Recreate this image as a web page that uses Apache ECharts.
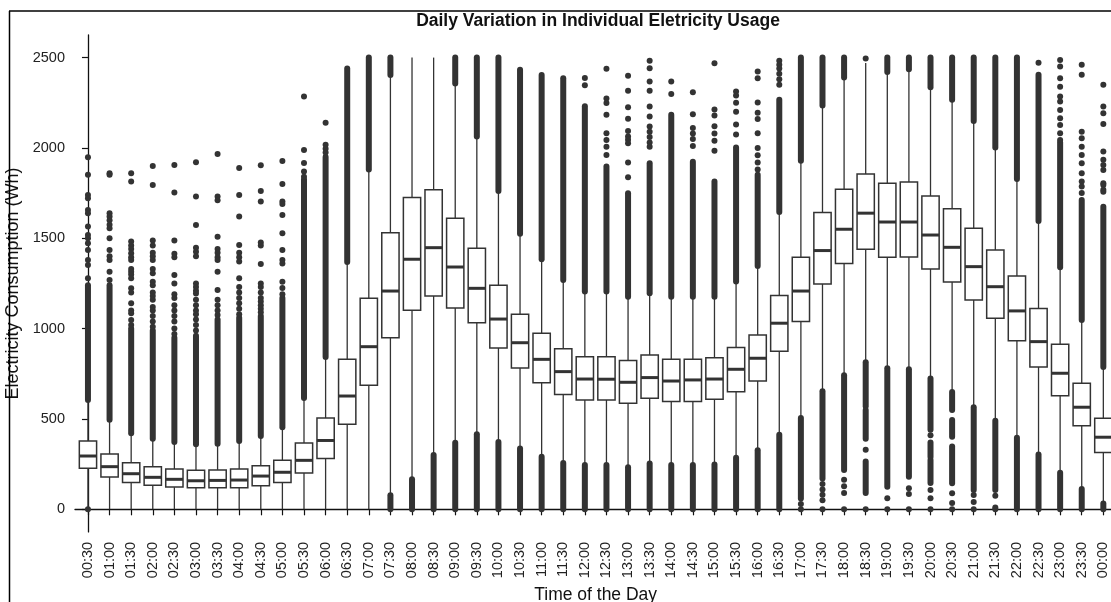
<!DOCTYPE html>
<html>
<head>
<meta charset="utf-8">
<script src="https://cdn.jsdelivr.net/npm/echarts@6/dist/echarts.min.js"></script>
<style>
  html, body { margin: 0; padding: 0; background: #fff; }
  #chart { width: 1111px; height: 602px; }
</style>
</head>
<body>
<div id="chart"></div>
<script>
// Half-hour slots of the day
const times = ['00:30','01:00','01:30','02:00','02:30','03:00','03:30','04:00','04:30','05:00','05:30','06:00',
  '06:30','07:00','07:30','08:00','08:30','09:00','09:30','10:00','10:30','11:00','11:30','12:00',
  '12:30','13:00','13:30','14:00','14:30','15:00','15:30','16:00','16:30','17:00','17:30','18:00',
  '18:30','19:00','19:30','20:00','20:30','21:00','21:30','22:00','22:30','23:00','23:30','00:00'];

// Box statistics per slot (Wh)
const whiskerLow = [5,0,0,0,0,0,0,0,0,0,0,0, 0,0,78,167,301,369,415,373,336,291,256,245,
  245,233,254,245,245,248,285,327,413,505,654,742, 814,780,775,724,649,565,490,396,303,203,112,32];
const q1 = [227,179,149,133,123,120,120,120,131,149,201,281, 471,686,950,1102,1181,1114,1033,893,782,701,636,605,
  605,587,614,596,596,609,651,710,875,1039,1247,1360, 1439,1395,1397,1330,1258,1159,1057,933,788,629,463,315];
const median = [295,236,197,177,166,158,160,162,184,205,271,381, 627,900,1208,1384,1448,1341,1223,1053,922,830,762,721,
  720,703,729,710,716,721,775,836,1030,1208,1432,1550, 1639,1590,1590,1518,1450,1343,1232,1098,928,753,565,399];
const q3 = [378,306,258,236,223,216,218,223,241,271,367,505, 830,1168,1531,1725,1768,1611,1445,1240,1079,974,889,845,
  845,823,854,830,830,839,895,965,1183,1395,1642,1772, 1856,1805,1812,1734,1664,1555,1435,1291,1111,913,697,504];
const whiskerHigh = [604,496,421,391,373,360,363,378,406,454,616,843, 1369,1880,2403,2500,2500,2357,2063,1761,1525,1384,1269,1205,
  1205,1177,1196,1177,1177,1177,1261,1347,1645,1929,2235,2390, 2470,2420,2435,2336,2266,2149,2002,1828,1595,1339,1048,788];

// Dense runs of outliers: [slot, from, to]
const outlierRuns = [
  [0,605,1240],[1,496,1240],[2,421,1000],[3,391,990],[4,373,950],[5,360,960],[6,363,1050],[7,378,1060],
  [8,406,1070],[9,454,1170],[10,616,1825],[11,843,1950],[12,1369,2440],[13,1880,2500],
  [14,2403,2500],[14,0,78],[15,0,167],[16,0,301],[17,2357,2500],[17,0,369],[18,2063,2500],[18,0,415],
  [19,1761,2500],[19,0,373],[20,1525,2432],[20,0,336],[21,1384,2404],[21,0,291],[22,1269,2386],[22,0,256],
  [23,1205,2230],[23,0,245],[24,1205,1897],[24,0,245],[25,1177,1749],[25,0,233],[26,1196,1915],[26,0,254],
  [27,1177,2183],[27,0,245],[28,1177,1924],[28,0,245],[29,1177,1814],[29,0,248],[30,1261,2002],[30,0,285],
  [31,1347,1851],[31,0,327],[32,1645,2266],[32,0,413],[33,1929,2500],[33,60,505],[34,2235,2500],[34,170,654],
  [35,2390,2500],[35,218,742],[36,570,814],[36,390,550],[36,90,265],[37,2420,2500],[37,125,780],
  [38,2435,2500],[38,180,775],[39,2336,2500],[39,440,724],[39,290,370],[39,146,273],
  [40,2266,2500],[40,550,649],[40,402,494],[40,144,347],[41,2149,2500],[41,107,565],[42,2002,2500],[42,107,490],
  [43,1828,2500],[43,0,396],[44,1595,2405],[44,0,303],[45,1339,2030],[45,0,203],[46,1048,1712],[46,0,112],
  [47,788,1675],[47,0,32]
];

// Isolated outliers: [slot, value]
const outlierDots = [
  [0,0],[0,1948],[0,1852],[0,1740],[0,1721],[0,1657],[0,1639],[0,1565],[0,1518],[0,1500],[0,1472],[0,1435],[0,1380],[0,1352],[0,1279],
  [1,1860],[1,1852],[1,1639],[1,1620],[1,1600],[1,1575],[1,1555],[1,1500],[1,1435],[1,1400],[1,1380],[1,1315],[1,1269],
  [2,1860],[2,1814],[2,1482],[2,1460],[2,1440],[2,1417],[2,1395],[2,1380],[2,1330],[2,1315],[2,1300],[2,1279],[2,1223],[2,1200],[2,1140],[2,1100],[2,1085],[2,1048],[2,1020],
  [3,1900],[3,1795],[3,1488],[3,1460],[3,1420],[3,1400],[3,1380],[3,1330],[3,1306],[3,1260],[3,1240],[3,1200],[3,1180],[3,1160],[3,1120],[3,1100],[3,1070],[3,1040],[3,1010],
  [4,1906],[4,1753],[4,1488],[4,1415],[4,1395],[4,1297],[4,1250],[4,1190],[4,1170],[4,1130],[4,1100],[4,1070],[4,1040],[4,1000],[4,970],
  [5,1921],[5,1731],[5,1574],[5,1447],[5,1425],[5,1400],[5,1250],[5,1230],[5,1210],[5,1195],[5,1160],[5,1130],[5,1100],[5,1080],[5,1050],[5,1020],[5,990],
  [6,1967],[6,1731],[6,1710],[6,1509],[6,1440],[6,1420],[6,1395],[6,1380],[6,1315],[6,1214],[6,1160],[6,1130],[6,1100],[6,1075],
  [7,1889],[7,1740],[7,1620],[7,1463],[7,1420],[7,1395],[7,1372],[7,1279],[7,1230],[7,1200],[7,1170],[7,1140],[7,1110],[7,1080],
  [8,1904],[8,1762],[8,1703],[8,1477],[8,1460],[8,1358],[8,1250],[8,1230],[8,1200],[8,1170],[8,1150],[8,1130],[8,1110],[8,1090],
  [9,1928],[9,1801],[9,1703],[9,1690],[9,1629],[9,1528],[9,1435],[9,1380],[9,1360],[9,1260],[9,1225],[9,1190],
  [10,2284],[10,1989],[10,1916],[10,1870],[10,1840],
  [11,2140],[11,2017],[11,1995],[11,1975],
  [23,2387],[23,2347],
  [24,2438],[24,2273],[24,2248],[24,2183],[24,2081],[24,2044],[24,2007],[24,1961],
  [25,2399],[25,2316],[25,2225],[25,2161],[25,2094],[25,2063],[25,2045],[25,2026],[25,1919],[25,1838],
  [26,2483],[26,2441],[26,2367],[26,2317],[26,2229],[26,2174],[26,2118],[26,2090],[26,2060],[26,2030],[26,2007],
  [27,2367],[27,2298],
  [28,2308],[28,2186],[28,2110],[28,2080],[28,2050],[28,2010],
  [29,2469],[29,2213],[29,2180],[29,2120],[29,2080],[29,2040],[29,1985],
  [30,2312],[30,2290],[30,2250],[30,2200],[30,2130],[30,2075],
  [31,2423],[31,2385],[31,2251],[31,2195],[31,2160],[31,2081],[31,2000],[31,1960],[31,1920],[31,1880],
  [32,2483],[32,2460],[32,2440],[32,2410],[32,2380],[32,2350],
  [33,30],[33,0],
  [34,140],[34,110],[34,80],[34,50],[34,0],
  [35,163],[35,127],[35,90],[35,0],
  [36,2495],[36,330],[36,0],
  [37,61],[37,0],
  [38,116],[38,85],[38,0],
  [39,410],[39,107],[39,61],[39,0],
  [40,89],[40,35],[40,0],
  [41,79],[41,40],[41,0],
  [42,75],[42,10],[42,0],
  [44,2471],
  [45,2487],[45,2450],[45,2386],[45,2339],[45,2284],[45,2257],[45,2210],[45,2164],[45,2127],[45,2081],[45,2044],
  [46,2460],[46,2405],[46,2090],[46,2053],[46,2007],[46,1961],[46,1915],[46,1860],[46,1814],[46,1786],[46,1750],
  [47,2349],[47,2229],[47,2192],[47,2133],[47,1980],[47,1934],[47,1905],[47,1878],[47,1805],[47,1795],[47,1768],[47,1758]
];

const yTicks = [0, 500, 1000, 1500, 2000, 2500];

const slotIndex = times.map((t, i) => i);
const boxData = times.map((t, i) => [i, whiskerLow[i], q1[i], median[i], q3[i], whiskerHigh[i]]);

const INK = '#333333';
const FONT = '"Liberation Sans", Arial, sans-serif';

function renderBox(params, api) {
  const x = api.value(0);
  const half = api.size([1, 0])[0] * 0.4;
  const pLo = api.coord([x, api.value(1)]);
  const pQ1 = api.coord([x, api.value(2)]);
  const pMed = api.coord([x, api.value(3)]);
  const pQ3 = api.coord([x, api.value(4)]);
  const pHi = api.coord([x, api.value(5)]);
  const whisker = { stroke: INK, lineWidth: 1.3 };
  return {
    type: 'group',
    children: [
      { type: 'line', shape: { x1: pLo[0], y1: pLo[1], x2: pQ1[0], y2: pQ1[1] }, style: whisker },
      { type: 'line', shape: { x1: pQ3[0], y1: pQ3[1], x2: pHi[0], y2: pHi[1] }, style: whisker },
      { type: 'rect', shape: { x: pQ3[0] - half, y: pQ3[1], width: half * 2, height: pQ1[1] - pQ3[1] },
        style: { fill: '#ffffff', stroke: INK, lineWidth: 1.5 } },
      { type: 'line', shape: { x1: pMed[0] - half, y1: pMed[1], x2: pMed[0] + half, y2: pMed[1] },
        style: { stroke: INK, lineWidth: 3 } }
    ]
  };
}

function renderRun(params, api) {
  const x = api.value(0);
  const a = api.coord([x, api.value(1)]);
  const b = api.coord([x, api.value(2)]);
  return {
    type: 'line',
    shape: { x1: a[0], y1: a[1], x2: b[0], y2: b[1] },
    style: { stroke: INK, lineWidth: 6, lineCap: 'round' }
  };
}

const chart = echarts.init(document.getElementById('chart'), null, { renderer: 'canvas' });

chart.setOption({
  animation: false,
  backgroundColor: '#ffffff',
  title: {
    text: 'Daily Variation in Individual Eletricity Usage',
    left: 593,
    textAlign: 'center',
    top: 7,
    textStyle: { fontFamily: FONT, fontSize: 17.5, fontWeight: 'bold', color: '#111' }
  },
  grid: { left: 75, top: 35, width: 1041.3, height: 496.9, containLabel: false, outerBoundsMode: 'none' },
  xAxis: {
    type: 'value',
    min: -0.6,
    max: 47.6,
    name: 'Time of the Day',
    nameLocation: 'middle',
    nameGap: 52,
    nameTextStyle: { fontFamily: FONT, fontSize: 17.5, color: '#111' },
    splitLine: { show: false },
    axisLine: { show: true, lineStyle: { color: '#111', width: 1.3 } },
    axisTick: { show: true, length: 6, lineStyle: { color: '#111', width: 1.2 }, customValues: slotIndex },
    axisLabel: {
      customValues: slotIndex,
      rotate: 90,
      margin: 10,
      fontFamily: FONT,
      fontSize: 14.5,
      color: '#222',
      formatter: v => times[Math.round(v)]
    }
  },
  yAxis: {
    type: 'value',
    min: -125,
    max: 2625,
    name: 'Electricity Consumption (Wh)',
    nameLocation: 'middle',
    nameGap: 48,
    nameRotate: 90,
    nameTextStyle: { fontFamily: FONT, fontSize: 18, color: '#111' },
    splitLine: { show: false },
    axisLine: { show: true, lineStyle: { color: '#111', width: 1.3 } },
    axisTick: { show: true, length: 6, lineStyle: { color: '#111', width: 1.2 }, customValues: yTicks },
    axisLabel: { customValues: yTicks, margin: 10, fontFamily: FONT, fontSize: 14.5, color: '#222',
      formatter: v => String(v) }
  },
  graphic: [
    { type: 'line', shape: { x1: 9, y1: 11, x2: 1111, y2: 11 }, style: { stroke: '#000', lineWidth: 1.5 }, z: 100 },
    { type: 'line', shape: { x1: 9.5, y1: 11, x2: 9.5, y2: 602 }, style: { stroke: '#000', lineWidth: 1.5 }, z: 100 }
  ],
  series: [
    {
      type: 'custom',
      name: 'runs',
      renderItem: renderRun,
      data: outlierRuns,
      encode: { x: 0, y: [1, 2] },
      z: 1,
      silent: true
    },
    {
      type: 'scatter',
      name: 'outliers',
      data: outlierDots,
      symbol: 'circle',
      symbolSize: 6,
      itemStyle: { color: INK, opacity: 1 },
      z: 2,
      silent: true
    },
    {
      type: 'custom',
      name: 'boxes',
      renderItem: renderBox,
      data: boxData,
      encode: { x: 0, y: [1, 2, 3, 4, 5] },
      z: 3,
      silent: true
    }
  ]
});
</script>
</body>
</html>
